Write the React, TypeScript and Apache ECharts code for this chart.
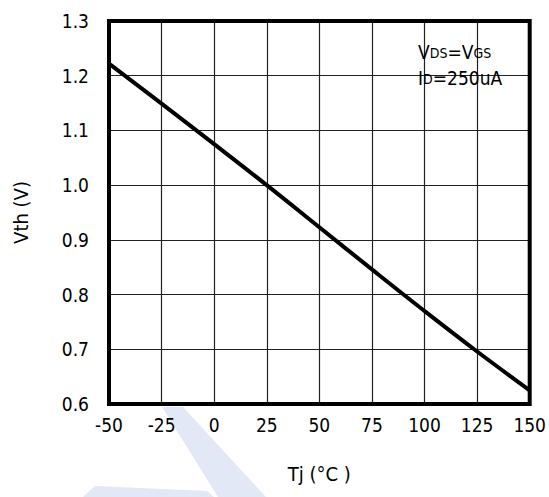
import React, { useEffect, useRef } from "react";
import * as echarts from "echarts";

const temperatures = [-50, -25, 0, 25, 50, 75, 100, 125, 150];
const vthValues = [1.222, 1.149, 1.075, 1.0, 0.923, 0.846, 0.77, 0.696, 0.625];
const xTicks = { min: -50, max: 150, interval: 25 };
const yTicks = { min: 0.6, max: 1.3, interval: 0.1 };
const annotationLines = ["V{s|DS}=V{s|GS}", "I{s|D}=250uA"];

const FONT = "'DejaVu Sans Condensed', 'Liberation Sans Narrow', 'Noto Sans', sans-serif";

export default function App() {
  const ref = useRef<HTMLDivElement>(null);
  useEffect(() => {
    if (!ref.current) return;
    const chart = echarts.init(ref.current, undefined, { renderer: "svg" });
    const data = temperatures.map((t, i) => [t, vthValues[i]]);
    chart.setOption({
      animation: false,
      backgroundColor: "#fff",
      grid: {
        left: 109,
        right: 17,
        top: 21,
        bottom: 93,
        show: true,
        borderColor: "#000",
        borderWidth: 4,
        z: 5,
      },
      xAxis: {
        type: "value",
        min: xTicks.min,
        max: xTicks.max,
        interval: xTicks.interval,
        name: "Tj (°C )",
        nameLocation: "middle",
        nameGap: 60,
        nameTextStyle: { fontFamily: FONT, fontSize: 20, color: "#000" },
        axisLine: { show: false },
        axisTick: { show: false },
        axisLabel: { fontFamily: FONT, fontSize: 19, color: "#000", margin: 11 },
        splitLine: { show: true, lineStyle: { color: "#222", width: 1.2 } },
      },
      yAxis: {
        type: "value",
        min: yTicks.min,
        max: yTicks.max,
        interval: yTicks.interval,
        name: "Vth (V)",
        nameLocation: "middle",
        nameGap: 78,
        nameRotate: 90,
        nameTextStyle: { fontFamily: FONT, fontSize: 20, color: "#000" },
        axisLine: { show: false },
        axisTick: { show: false },
        axisLabel: {
          fontFamily: FONT,
          fontSize: 19,
          color: "#000",
          margin: 20,
          formatter: (v: number) => v.toFixed(1),
        },
        splitLine: { show: true, lineStyle: { color: "#222", width: 1.2 } },
      },
      graphic: [
        {
          type: "polygon",
          z: -10,
          silent: true,
          shape: { points: [[162, 407], [183, 407], [266, 497], [218, 497]] },
          style: { fill: "#e2e8f5" },
        },
        {
          type: "polygon",
          z: -10,
          silent: true,
          shape: { points: [[95, 486], [207, 491], [214, 497], [83, 497]] },
          style: { fill: "#e2e8f5" },
        },
        {
          type: "text",
          z: 10,
          left: 418,
          top: 39,
          style: {
            text: annotationLines.join("\n"),
            fontFamily: FONT,
            fontSize: 19,
            lineHeight: 26,
            fill: "#000",
            align: "left",
            rich: {
              s: { fontFamily: FONT, fontSize: 14, lineHeight: 26, verticalAlign: "bottom", padding: [0, 0, 5, 0] },
            },
          },
        },
      ],
      series: [
        {
          type: "line",
          data,
          smooth: 0.4,
          showSymbol: false,
          z: 4,
          lineStyle: { color: "#000", width: 4 },
        },
      ],
    });
    return () => chart.dispose();
  }, []);
  return <div ref={ref} style={{ width: 549, height: 497, position: "absolute", left: 0, top: 0 }} />;
}
